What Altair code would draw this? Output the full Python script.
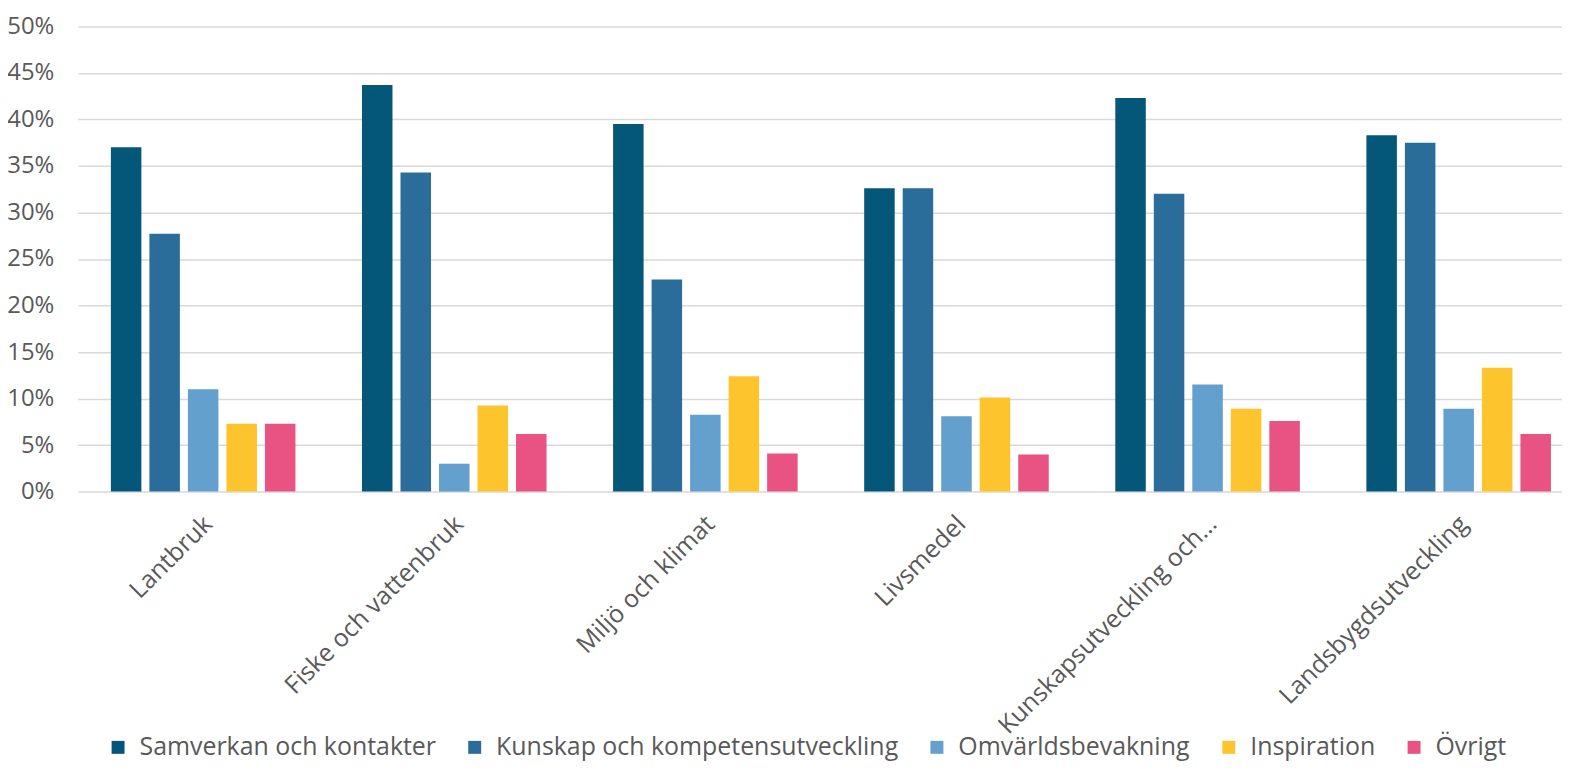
import altair as alt
import pandas as pd

categories = ["Lantbruk", "Fiske och vattenbruk", "Miljö och klimat", "Livsmedel",
              "Kunskapsutveckling och…", "Landsbygdsutveckling"]
series = ["Samverkan och kontakter", "Kunskap och kompetensutveckling",
          "Omvärldsbevakning", "Inspiration", "Övrigt"]
samverkan = [37.0, 43.7, 39.5, 32.6, 42.3, 38.3]
kunskap = [27.7, 34.3, 22.8, 32.6, 32.0, 37.5]
omvarld = [11.0, 3.0, 8.25, 8.1, 11.5, 8.9]
inspiration = [7.3, 9.25, 12.4, 10.1, 8.9, 13.3]
ovrigt = [7.3, 6.2, 4.1, 4.0, 7.6, 6.2]
colors = ["#05577A", "#2A6D9B", "#63A0CD", "#FEC42D", "#E85383"]

rows = []
for s, vals in zip(series, [samverkan, kunskap, omvarld, inspiration, ovrigt]):
    for c, v in zip(categories, vals):
        rows.append({"Kategori": c, "Serie": s, "Andel": v / 100.0})
df = pd.DataFrame(rows)

FONT = "Open Sans"
GREY = "#595959"

chart = alt.Chart(df).mark_bar().encode(
    x=alt.X("Kategori:N", sort=categories, title=None,
            scale=alt.Scale(paddingInner=0.265, paddingOuter=0.088, align=0.75, round=False),
            axis=alt.Axis(labelAngle=-45, labelAlign="right", labelBaseline="middle",
                          labelPadding=28, labelOffset=5, ticks=False, tickSize=0,
                          domain=False, labelFontSize=25, labelColor=GREY,
                          labelFont=FONT, labelLimit=500)),
    xOffset=alt.XOffset("Serie:N", sort=series,
                        scale=alt.Scale(paddingInner=0.208, paddingOuter=0, round=False)),
    y=alt.Y("Andel:Q", title=None,
            scale=alt.Scale(domain=[0, 0.5], nice=False),
            axis=alt.Axis(format=".0%", values=[i * 0.05 for i in range(11)],
                          ticks=False, tickSize=0, domain=False, labelPadding=24,
                          labelFontSize=24, labelColor=GREY, labelFont=FONT,
                          gridColor="#D9D9D9", gridWidth=1.5)),
    color=alt.Color("Serie:N", sort=series,
                    scale=alt.Scale(domain=series, range=colors),
                    legend=alt.Legend(title=None, orient="none", legendX=28, legendY=711,
                                      padding=0, offset=0,
                                      direction="horizontal", symbolType="square",
                                      symbolSize=169, symbolStrokeWidth=0,
                                      labelFontSize=25, labelColor=GREY, labelFont=FONT,
                                      columnPadding=26, labelOffset=9, labelLimit=600)),
).properties(
    width=1490, height=467,
    autosize=alt.AutoSizeParams(type="none"),
    padding={"left": 70, "top": 17, "right": 0, "bottom": 274},
).configure_view(stroke=None)

chart.save("out.html", embed_options={"renderer": "svg", "actions": False})
